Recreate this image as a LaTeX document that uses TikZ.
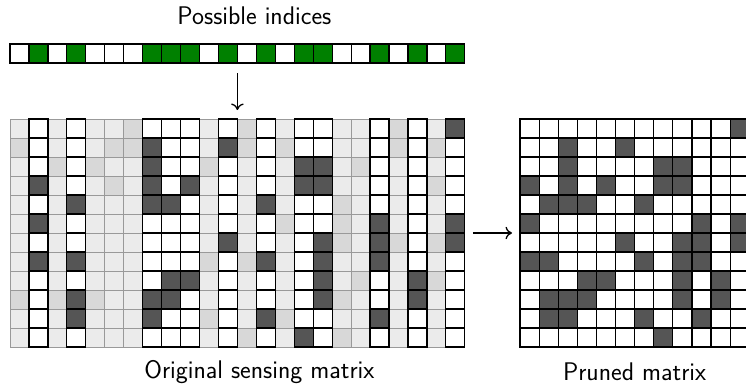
\documentclass[tikz,border=0pt]{standalone}
\usepackage{tikz}
\usetikzlibrary{arrows.meta,positioning,fit}
\definecolor{PickGreen}{HTML}{008000}
\definecolor{CellDark}{HTML}{555555}
\definecolor{SkipLight}{HTML}{EBEBEB}
\definecolor{SkipMid}{HTML}{D8D8D8}
\tikzset{
  cell/.style={draw=black, line width=1.2pt, fill=white, minimum width=18.95pt, minimum height=19pt,
               inner sep=0pt, outer sep=0pt},
  idx0/.style={cell},
  idx1/.style={cell, fill=PickGreen},
  val0/.style={cell},
  val1/.style={cell, fill=CellDark},
  skip0/.style={cell, draw=gray!80, line width=0.9pt, fill=SkipLight},
  skip1/.style={cell, draw=gray!80, line width=0.9pt, fill=SkipMid},
  grp/.style={fit=#1, inner sep=0pt, outer sep=0pt},
  lbl/.style={font=\sffamily\fontsize{25.5}{28}\selectfont, inner sep=0pt, outer sep=0pt},
  selarr/.style={->, line width=1.3pt}
}
\def\pickcols{{2,4,8,9,10,12,14,16,17,20,22,24}}
\def\skipcols{{1,3,5,6,7,11,13,15,18,19,21,23}}

\begin{document}
\begin{tikzpicture}[x=1pt, y=-1pt, >={To[length=6.5pt,width=12.5pt]}]
\useasboundingbox (0,0) rectangle (746,386);
% possible indices
\foreach \v [count=\c] in {0,1,0,1,0,0,0,1,1,1,0,1,0,1,0,1,1,0,0,1,0,1,0,1}
  \node[idx\v] (t-\c) at ({10+(\c-0.5)*18.95}, 53.5) {};
% columns that are left out
\foreach \rowdata [count=\r] in {
  {0,0,0,0,1,0,1,0,0,0,1,0},
  {1,0,0,1,1,0,1,1,0,0,1,1},
  {0,1,1,0,0,1,0,0,0,1,0,0},
  {0,0,0,1,0,0,0,0,0,0,0,1},
  {0,0,0,0,0,0,0,0,1,0,0,0},
  {0,0,0,0,0,0,0,1,1,0,0,0},
  {0,0,0,0,0,0,0,0,1,0,1,1},
  {0,0,0,0,0,1,1,0,0,0,0,0},
  {0,0,0,0,0,0,0,0,0,1,0,1},
  {1,1,1,0,0,0,0,0,1,0,0,0},
  {0,0,0,0,0,1,0,1,0,0,0,0},
  {0,0,0,0,0,0,1,0,1,0,0,0}} {
  \foreach \v [count=\c] in \rowdata {
    \pgfmathtruncatemacro\bc{\skipcols[\c-1]}
    \node[skip\v] (o-\r-\bc) at ({10+(\bc-0.5)*18.95}, {119+(\r-0.5)*19}) {};
  }
}
% kept columns, and the pruned matrix
\foreach \rowdata [count=\r] in {
  {0,0,0,0,0,0,0,0,0,0,0,1},
  {0,0,1,0,0,1,0,0,0,0,0,0},
  {0,0,1,0,0,0,0,1,1,0,0,0},
  {1,0,1,0,1,0,0,1,1,0,0,0},
  {0,1,1,1,0,0,1,0,0,0,0,0},
  {1,0,0,0,0,0,0,0,0,1,0,1},
  {0,0,0,0,0,1,0,0,1,1,0,1},
  {1,1,0,0,0,0,1,0,1,1,0,0},
  {0,0,0,1,1,0,0,0,1,0,1,0},
  {0,1,1,1,0,0,0,0,1,0,1,0},
  {0,1,1,0,0,0,1,0,0,1,0,0},
  {0,0,0,0,0,0,0,1,0,0,0,0}} {
  \foreach \v [count=\c] in \rowdata {
    \pgfmathtruncatemacro\bc{\pickcols[\c-1]}
    \node[val\v] (o-\r-\bc) at ({10+(\bc-0.5)*18.95}, {119+(\r-0.5)*19}) {};
    \node[val\v, minimum width=19.1pt] (p-\r-\c) at ({520+(\c-0.5)*19.1}, {119+(\r-0.5)*19}) {};
  }
}
\node[grp={(t-1)(t-24)}] (idxrow) {};
\node[grp={(o-1-1)(o-12-24)}] (orig) {};
\node[grp={(p-1-1)(p-12-12)}] (pruned) {};
\node[lbl, above=19pt of idxrow, xshift=17pt] (idxlbl) {Possible indices};
\node[lbl, below=13pt of orig, xshift=22pt] (origlbl) {Original sensing matrix};
\node[lbl, below=16pt of pruned] (prunedlbl) {Pruned matrix};
\draw[selarr, shorten <=10pt, shorten >=9pt] (idxrow) -- (orig);
\draw[selarr, shorten <=8pt, shorten >=8pt] (orig) -- (pruned);
\end{tikzpicture}
\end{document}
